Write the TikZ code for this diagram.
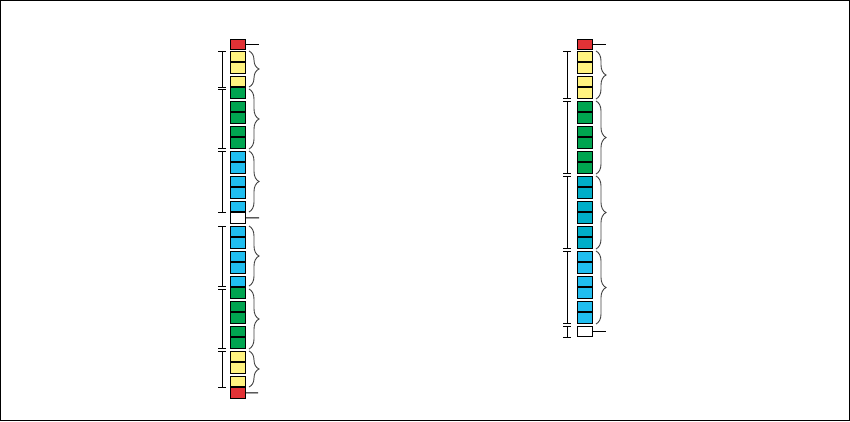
\documentclass[tikz,border=0pt]{standalone}
\usetikzlibrary{decorations.pathreplacing}
\definecolor{cred}{RGB}{226,50,54}
\definecolor{cyel}{RGB}{255,243,128}
\definecolor{cgrn}{RGB}{0,164,80}
\definecolor{cblu}{RGB}{32,190,240}
\definecolor{ctel}{RGB}{0,174,200}
\definecolor{cwht}{RGB}{255,255,255}
\begin{document}
\begin{tikzpicture}[x=1pt,y=-1pt,
  cell/.style={draw=black, line width=1pt, minimum width=15pt, minimum height=11.25pt, inner sep=0pt, outer sep=0pt, anchor=north},
  midline/.style={line width=2pt},
  dimline/.style={line width=0.9pt},
  brc/.style={decorate, decoration={brace, amplitude=10pt}, draw=black!75, line width=0.9pt},
  lead/.style={line width=0.9pt}]
\useasboundingbox (0,0) rectangle (850,421);
\draw[line width=1pt] (0.5,0.5) rectangle (849.5,420.5);

% ---------- left column ----------
\node[cell, fill=cred, minimum height=10.5pt] (LT) at (238,39) {};
\foreach \i/\a/\b in {0/cyel/cyel,1/cyel/cgrn,2/cgrn/cgrn,3/cgrn/cgrn,4/cblu/cblu,5/cblu/cblu,6/cblu/cwht}{
  \node[cell, fill=\a] (LUa\i) at (238,51+25*\i) {};
  \node[cell, fill=\b] (LUb\i) at (238,62.25+25*\i) {};
  \draw[midline] (LUb\i.north west) -- (LUb\i.north east);
}
\foreach \i/\a/\b in {0/cblu/cblu,1/cblu/cblu,2/cblu/cgrn,3/cgrn/cgrn,4/cgrn/cgrn,5/cyel/cyel,6/cyel/cred}{
  \node[cell, fill=\a] (LLa\i) at (238,226+25*\i) {};
  \node[cell, fill=\b] (LLb\i) at (238,237.25+25*\i) {};
  \draw[midline] (LLb\i.north west) -- (LLb\i.north east);
}
\coordinate (LTe) at (259,44.25);
\draw[lead] (LT.east) -- (LTe);
\coordinate (LWe) at (259,217.9);
\draw[lead] (LUb6.east) -- (LWe);
\coordinate (LBe) at (258,392.9);
\draw[lead] (LLb6.east) -- (LBe);

% left dimension lines
\foreach \n/\t/\b in {1/51/87.2,2/89.2/148.5,3/151.5/212.5,4/226/286,5/289/348.5,6/351.5/387}{
  \coordinate (ldt\n) at (222,\t);
  \coordinate (ldb\n) at (222,\b);
  \draw[dimline] (ldt\n) -- (ldb\n);
  \draw[dimline] ([xshift=-4pt]ldt\n) -- ([xshift=4pt]ldt\n);
  \draw[dimline] ([xshift=-4pt]ldb\n) -- ([xshift=4pt]ldb\n);
}
% left braces
\foreach \n/\t/\b in {1/51/87,2/89/149,3/151/212,4/226/286,5/289/349,6/351/387}{
  \coordinate (lbt\n) at (249,\t);
  \coordinate (lbb\n) at (249,\b);
  \draw[brc] (lbt\n) -- (lbb\n);
}

% ---------- right column ----------
\node[cell, fill=cred, minimum height=10.5pt] (RT) at (585,39) {};
\foreach \i/\a/\b in {0/cyel/cyel,1/cyel/cyel,2/cgrn/cgrn,3/cgrn/cgrn,4/cgrn/cgrn,5/ctel/ctel,6/ctel/ctel,7/ctel/ctel,8/cblu/cblu,9/cblu/cblu,10/cblu/cblu}{
  \node[cell, fill=\a] (Ra\i) at (585,51+25*\i) {};
  \node[cell, fill=\b] (Rb\i) at (585,62.25+25*\i) {};
  \draw[midline] (Rb\i.north west) -- (Rb\i.north east);
}
\node[cell, fill=cwht, minimum height=10.5pt] (RW) at (585,326.25) {};
\coordinate (RTe) at (606,44.25);
\draw[lead] (RT.east) -- (RTe);
\coordinate (RWe) at (606,331.5);
\draw[lead] (RW.east) -- (RWe);

% right dimension lines
\foreach \n/\t/\b in {1/51/98.5,2/101.5/173.8,3/176.8/248.5,4/251.5/323.5,5/326.5/337}{
  \coordinate (rdt\n) at (567,\t);
  \coordinate (rdb\n) at (567,\b);
  \draw[dimline] (rdt\n) -- (rdb\n);
  \draw[dimline] ([xshift=-4pt]rdt\n) -- ([xshift=4pt]rdt\n);
  \draw[dimline] ([xshift=-4pt]rdb\n) -- ([xshift=4pt]rdb\n);
}
% right braces
\foreach \n/\t/\b in {1/51/99,2/101/174,3/176/249,4/251/324}{
  \coordinate (rbt\n) at (596,\t);
  \coordinate (rbb\n) at (596,\b);
  \draw[brc] (rbt\n) -- (rbb\n);
}
\end{tikzpicture}
\end{document}
